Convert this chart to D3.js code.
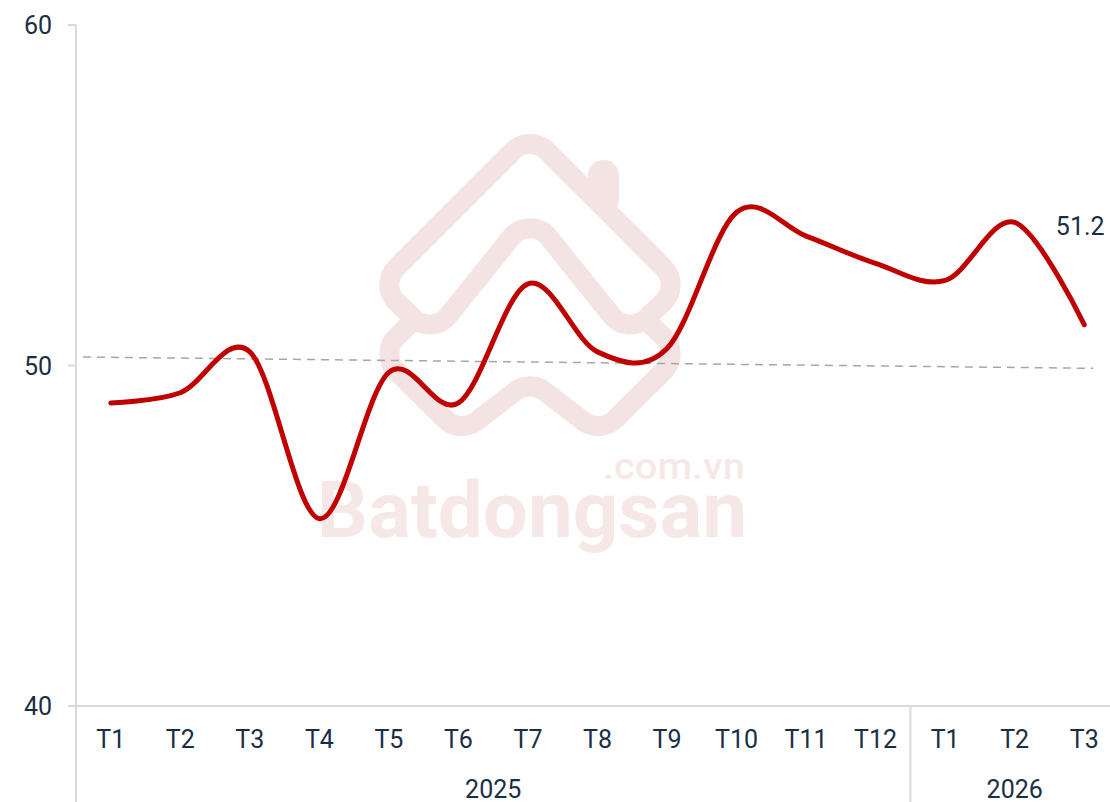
<!DOCTYPE html>
<html>
<head>
<meta charset="utf-8">
<script src="https://cdn.jsdelivr.net/npm/d3@7"></script>
<style>
  html, body { margin: 0; padding: 0; background: #fff; }
  svg { display: block; font-family: Roboto, "Noto Sans", sans-serif; }
</style>
</head>
<body>
<div id="chart"></div>
<script>
// data
const months = ["T1", "T2", "T3", "T4", "T5", "T6", "T7", "T8", "T9", "T10", "T11", "T12", "T1", "T2", "T3"];
const years = [
  { label: "2025", from: 0, to: 11 },
  { label: "2026", from: 12, to: 14 },
];
const values = [48.9, 49.2, 50.4, 45.5, 49.8, 48.9, 52.4, 50.4, 50.5, 54.5, 53.8, 53.0, 52.5, 54.2, 51.2];
const trendValues = [50.24, 49.92]; // at first and last month
const yTicks = [40, 50, 60];
const lastLabel = "51.2";

const width = 1110;
const height = 802;
const textColor = "#1b2e44";
const axisColor = "#d9d9d9";
const lineColor = "#c00000";
const wmColor = "#f4e3e3";

const svg = d3
  .select("#chart")
  .append("svg")
  .attr("width", width)
  .attr("height", height);

// scales
const x = d3
  .scaleBand()
  .domain(d3.range(months.length))
  .range([76, 1119]);
const cx = (i) => x(i) + x.bandwidth() / 2;
const y = d3.scaleLinear().domain([40, 60]).range([706, 25]);

// polyline with rounded corners (closed: wraps around)
const rounded = (pts, r, closed) => {
  const p = d3.path();
  const n = pts.length;
  if (closed) {
    const m = [(pts[0][0] + pts[1][0]) / 2, (pts[0][1] + pts[1][1]) / 2];
    p.moveTo(...m);
    for (let i = 1; i <= n; i++) p.arcTo(...pts[i % n], ...pts[(i + 1) % n], r);
    p.closePath();
  } else {
    p.moveTo(...pts[0]);
    for (let i = 1; i < n - 1; i++) p.arcTo(...pts[i], ...pts[i + 1], r);
    p.lineTo(...pts[n - 1]);
  }
  return p.toString();
};

// watermark
const wm = svg.append("g").attr("fill", "none").attr("stroke", wmColor)
  .attr("stroke-width", 20).attr("stroke-linejoin", "round").attr("stroke-linecap", "round");
wm.append("rect").attr("x", 588).attr("y", 160).attr("width", 31).attr("height", 54)
  .attr("rx", 15).attr("fill", wmColor).attr("stroke", "none");
wm.append("path").attr("d", rounded(
  [[530, 134], [681, 285], [628, 336], [530, 214], [432, 336], [379, 285]], 24, true));
wm.append("path").attr("d", rounded(
  [[414, 320], [379, 354], [460, 434], [530, 380], [600, 434], [681, 354], [646, 320]], 24, false));
svg.append("text")
  .attr("x", 317).attr("y", 537)
  .attr("textLength", 430).attr("lengthAdjust", "spacingAndGlyphs")
  .attr("fill", "#f7e8e8").style("font-size", "77px").style("font-weight", 700)
  .text("Batdongsan");
svg.append("text")
  .attr("x", 745).attr("y", 479).attr("text-anchor", "end")
  .attr("textLength", 142).attr("lengthAdjust", "spacingAndGlyphs")
  .attr("fill", "#f7e8e8").style("font-size", "36px").style("font-weight", 500)
  .text(".com.vn");

// y axis
const yAxis = svg.append("g");
yAxis.append("line")
  .attr("x1", 76).attr("x2", 76).attr("y1", y(60)).attr("y2", height)
  .attr("stroke", axisColor).attr("stroke-width", 2);
yAxis.selectAll(".tick")
  .data(yTicks)
  .join("line")
  .attr("x1", 68).attr("x2", 76)
  .attr("y1", (d) => y(d)).attr("y2", (d) => y(d))
  .attr("stroke", axisColor).attr("stroke-width", 2);
yAxis.selectAll("text")
  .data(yTicks)
  .join("text")
  .attr("x", 52).attr("y", (d) => y(d)).attr("dy", "0.36em")
  .attr("text-anchor", "end").attr("fill", textColor)
  .style("font-size", "25px")
  .text((d) => d);

// x axis
const xAxis = svg.append("g");
xAxis.append("line")
  .attr("x1", 68).attr("x2", width).attr("y1", y(40)).attr("y2", y(40))
  .attr("stroke", axisColor).attr("stroke-width", 2);
xAxis.selectAll(".sep")
  .data(years.slice(1))
  .join("line")
  .attr("x1", (d) => x(d.from)).attr("x2", (d) => x(d.from))
  .attr("y1", y(40)).attr("y2", height)
  .attr("stroke", axisColor).attr("stroke-width", 2);
xAxis.selectAll(".month")
  .data(months)
  .join("text")
  .attr("x", (d, i) => cx(i)).attr("y", 739).attr("dy", "0.36em")
  .attr("text-anchor", "middle").attr("fill", textColor)
  .style("font-size", "25px")
  .text((d) => d);
xAxis.selectAll(".year")
  .data(years)
  .join("text")
  .attr("x", (d) => (x(d.from) + x(d.to) + x.bandwidth()) / 2).attr("y", 789).attr("dy", "0.36em")
  .attr("text-anchor", "middle").attr("fill", textColor)
  .style("font-size", "25px")
  .text((d) => d.label);

// trend line (dashed), extended a little past first/last month
const step = x.step();
const last = months.length - 1;
const slope = (trendValues[1] - trendValues[0]) / (cx(last) - cx(0));
const trendAt = (px) => trendValues[0] + slope * (px - cx(0));
const tx0 = cx(0) - 0.4 * step;
const tx1 = cx(last) + 0.13 * step;
svg.append("line")
  .attr("x1", tx0).attr("y1", y(trendAt(tx0)))
  .attr("x2", tx1).attr("y2", y(trendAt(tx1)))
  .attr("stroke", "#a6a6a6").attr("stroke-width", 1.5)
  .attr("stroke-dasharray", "8,6");

// main series
const line = d3
  .line()
  .x((d, i) => cx(i))
  .y((d) => y(d))
  .curve(d3.curveCardinal.tension(0));
svg.append("path")
  .datum(values)
  .attr("d", line)
  .attr("fill", "none")
  .attr("stroke", lineColor)
  .attr("stroke-width", 5)
  .attr("stroke-linecap", "round")
  .attr("stroke-linejoin", "round");

// last value label
svg.append("text")
  .attr("x", cx(last) - 4).attr("y", y(values[last]) - 99).attr("dy", "0.36em")
  .attr("text-anchor", "middle").attr("fill", textColor)
  .style("font-size", "25px")
  .text(lastLabel);
</script>
</body>
</html>
